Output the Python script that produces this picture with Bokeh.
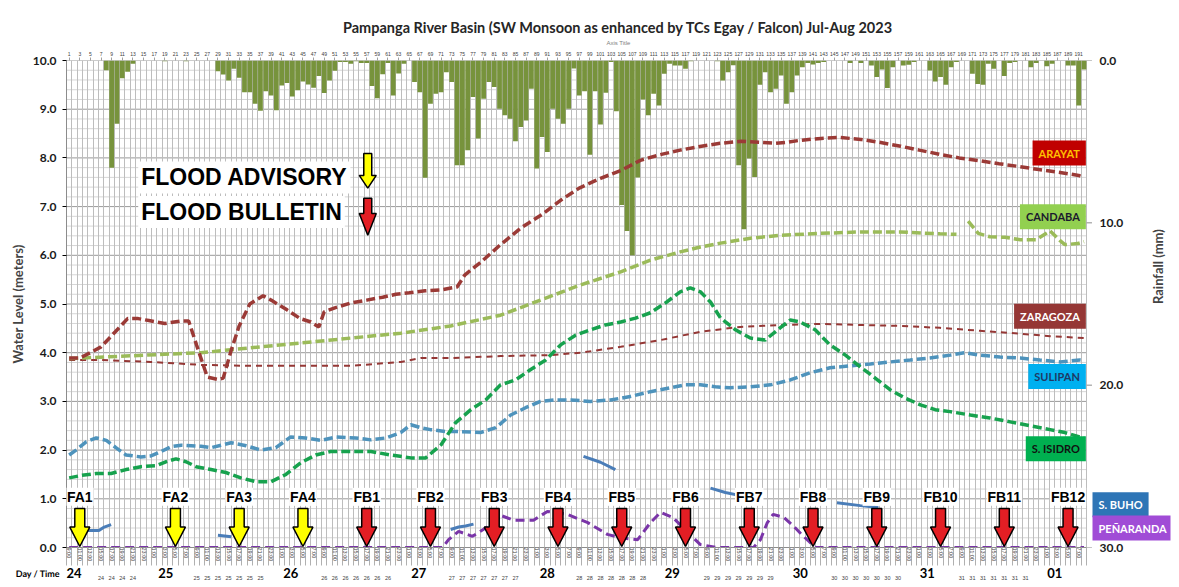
import math
from bokeh.plotting import figure
from bokeh.models import (Range1d, LinearAxis, FixedTicker, Label, NumeralTickFormatter)
from bokeh.embed import file_html
from bokeh.resources import INLINE

NaN = float("nan")

# ---------------- data ----------------
hours = list(range(1, 193))  # hourly index, 1 = 24 Jul 09:00
rainfall_mm = [
    0, 0, 0, 0, 0, 0, 0, 0.6, 6.6, 3.9, 1.1, 0.7,
    0.2, 0, 0, 0, 0, 0, 0.05, 0, 0, 0, 0.05, 0,
    0, 0, 0, 0, 0.66, 0.86, 1.23, 0.51, 1.06, 1.95, 1.95, 2.66,
    3.1, 1.9, 2.15, 3.07, 1.54, 1.39, 2.21, 1.84, 1.29, 1.48, 1.68, 0.95,
    2.0, 1.23, 0.63, 0.1, 0.1, 0.2, 0.05, 0.15, 0.15, 1.57, 2.33, 0.84,
    0.15, 2.15, 0.8, 0.2, 0, 1.33, 1.95, 7.23, 2.66, 2.05, 1.95, 0.72,
    1.33, 6.45, 6.45, 5.53, 2.25, 4.81, 2.36, 1.33, 1.64, 2.97, 3.38, 3.59,
    4.98, 4.1, 3.69, 1.74, 6.66, 4.71, 5.63, 2.97, 3.59, 3.89, 2.97, 0.5,
    2.15, 1.9, 5.8, 1.9, 3.95, 1.99, 0.1, 3.13, 8.9, 10.5, 12.0, 7.2,
    2.4, 3.38, 2.05, 2.77, 0.82, 0.2, 0.31, 0.31, 0.51, 0.05, 0, 0,
    0, 0, 0.05, 1.23, 0.72, 0.3, 6.45, 10.4, 6.04, 7.17, 1.5, 0.72,
    1.95, 1.74, 0.92, 2.66, 1.95, 0.92, 0.41, 0.15, 0.25, 0.15, 0.1, 0,
    0, 0, 0, 0.15, 0, 0.15, 0, 0.31, 1.02, 0.55, 1.7, 0.41,
    0, 0.31, 0.26, 0.1, 0, 0, 0.61, 1.29, 1.02, 1.5, 0.41, 0.1,
    0, 0, 0.82, 1.44, 1.5, 0.2, 0.51, 0, 0.96, 0.15, 0.1, 0,
    0, 0.41, 0.15, 0, 0.35, 0.2, 0, 0, 0.31, 0.31, 2.77, 0.55,
]

arayat_h = [1, 3, 5, 7, 9, 12, 14, 16, 19, 22, 23.5, 25, 27, 29, 30, 31.5, 33, 35, 37.5, 39,
            42, 44.5, 46.5, 48, 49, 51, 54, 57, 60, 62.5, 65, 68, 71, 74, 75.5, 78.5, 82, 86, 90, 93.5,
            97, 101, 105, 108.5, 112, 116, 120, 123.5, 127.5, 131, 134, 136, 138.5, 142.5, 146,
            150, 153.5, 157.5, 161, 165, 168.5, 172.5, 176, 180, 183.5, 187.5, 191, 192]
arayat_wl = [3.89, 3.89, 4.0, 4.12, 4.35, 4.7, 4.7, 4.66, 4.6, 4.65, 4.65, 4.15, 3.5, 3.45, 3.48, 4.05, 4.55, 5.0, 5.17, 5.08,
             4.88, 4.7, 4.63, 4.53, 4.84, 4.92, 5.02, 5.08, 5.14, 5.2, 5.23, 5.27, 5.29, 5.35, 5.6, 5.86, 6.2, 6.56, 6.84, 7.13,
             7.38, 7.58, 7.75, 7.95, 8.06, 8.16, 8.24, 8.3, 8.34, 8.32, 8.3, 8.32, 8.36, 8.4, 8.42,
             8.38, 8.32, 8.24, 8.16, 8.07, 8.0, 7.94, 7.88, 7.82, 7.76, 7.7, 7.64, 7.6]

zaragoza_h = [1, 7, 16.4, 25.8, 35.2, 44.6, 54, 63.4, 67.2, 72.8, 82.2, 91.6, 97.2, 104.8, 112.3,
              119.8, 127.3, 134.8, 142.4, 149.9, 157.4, 164.9, 172.4, 180, 185.6, 192]
zaragoza_wl = [3.85, 3.85, 3.81, 3.75, 3.73, 3.73, 3.73, 3.81, 3.89, 3.89, 3.93, 3.95, 4.0, 4.12, 4.26,
               4.43, 4.53, 4.57, 4.59, 4.57, 4.55, 4.51, 4.45, 4.39, 4.34, 4.3]

candaba_h = [1, 25.8, 44.6, 63.4, 72.8, 82.2, 89.7, 97.2, 104.8, 110.4, 116, 119.8, 123.6, 129.2, 134.8,
             142.4, 149.9, 157.4, 164.9, 168, NaN, 170.2, 172.1, 174.3, 177.1, 180, 183, 185.6, 187.5,
             188.4, 190.8, 192]
candaba_wl = [3.88, 4.0, 4.2, 4.4, 4.55, 4.77, 5.08, 5.39, 5.66, 5.9, 6.07, 6.17, 6.25, 6.35, 6.41,
              6.45, 6.48, 6.48, 6.44, 6.43, NaN, 6.7, 6.45, 6.38, 6.37, 6.32, 6.32, 6.5, 6.3,
              6.22, 6.24, 6.28]

sulipan_h = [1, 2.3, 4.2, 6.1, 8, 9.8, 11.7, 14.5, 16.4, 18.3, 20.2, 22.1, 25.8, 27.7, 29.6, 31.5, 34.3,
             37.1, 39.9, 42.7, 45.5, 48.4, 51.2, 54.9, 57.8, 60.6, 63.4, 65.3, 67.2, 69, 71.9, 74.7, 78.4,
             81.3, 84.1, 86.9, 89.7, 92.5, 95.4, 99.1, 102.9, 106.6, 110.4, 114.2, 117, 119.8, 122.6,
             125.4, 129.2, 133, 136.7, 140.5, 144.2, 148, 151.8, 155.5, 159.3, 163, 166.8, 169.6, 172.4,
             176.2, 180, 183.7, 187.5, 191.2, 192]
sulipan_wl = [1.9, 2.0, 2.17, 2.25, 2.2, 2.05, 1.9, 1.86, 1.88, 1.97, 2.07, 2.1, 2.08, 2.05, 2.1, 2.15, 2.09,
              2.0, 2.05, 2.27, 2.25, 2.2, 2.27, 2.25, 2.21, 2.25, 2.36, 2.52, 2.46, 2.42, 2.38, 2.38, 2.36,
              2.46, 2.72, 2.87, 3.0, 3.03, 3.03, 3.0, 3.03, 3.1, 3.2, 3.28, 3.34, 3.34, 3.3,
              3.28, 3.3, 3.34, 3.44, 3.59, 3.69, 3.73, 3.77, 3.81, 3.85, 3.89, 3.95, 4.0, 3.95,
              3.91, 3.89, 3.85, 3.81, 3.85, 3.84]

isidro_h = [1, 3.3, 6.1, 8.9, 11.7, 14.5, 17.4, 19.2, 21.1, 23, 24.9, 27.7, 30.5, 33.3, 36.2, 39, 41.8,
            44.6, 47.4, 50.2, 54, 57.8, 61.5, 65.3, 68.1, 71, 73.7, 76.6, 79.4, 82.2, 85, 87.8, 90.7,
            93.5, 96.3, 99.1, 101.9, 104.8, 107.6, 110.4, 113.2, 116, 117.9, 119.8, 121.7, 123.6, 126.4,
            129.2, 132, 134.8, 136.7, 138.6, 141.4, 144.2, 147.1, 149.9, 152.7, 155.5, 158.3, 161.2,
            164, 166.8, 170.6, 174.3, 178.1, 181.8, 185.6, 188.4, 191.2, 192]
isidro_wl = [1.43, 1.48, 1.52, 1.52, 1.6, 1.66, 1.68, 1.76, 1.82, 1.76, 1.66, 1.6, 1.54, 1.43, 1.35, 1.35, 1.5,
             1.74, 1.9, 1.97, 1.97, 1.97, 1.9, 1.84, 1.84, 2.11, 2.56, 2.83, 3.03, 3.34, 3.44, 3.65, 3.85,
             4.16, 4.36, 4.47, 4.57, 4.63, 4.71, 4.82, 5.02, 5.25, 5.33, 5.25, 5.04, 4.71, 4.47,
             4.3, 4.26, 4.51, 4.67, 4.63, 4.47, 4.16, 3.95, 3.71, 3.48, 3.24, 3.07, 2.93,
             2.83, 2.79, 2.72, 2.66, 2.58, 2.5, 2.42, 2.36, 2.27, 2.25]

buho_h = [3.3, 4.2, 6.6, 7.6, 8.9, NaN, 29, 31.5, NaN, 72.8, 74.3, 75.6, 77.1, NaN,
          97.8, 101, 103.8, NaN, 121.7, 124.5, 128, NaN, 145.5, 149.9, 153.3]
buho_wl = [0.38, 0.35, 0.35, 0.42, 0.47, NaN, 0.25, 0.22, NaN, 0.37, 0.42, 0.44, 0.48, NaN,
           1.87, 1.75, 1.6, NaN, 1.22, 1.13, 1.05, NaN, 0.92, 0.86, 0.82]

penaranda_h = [1, 69.6, 71.3, 72.4, 74.3, 76.9, 79.8, 82.2, 84.6, 88.4, 91, 94.8, 98.6, 102.3, 104.8,
               108, 110.4, 112.3, 114.7, 117.4, 119.8, 123, 129.8, 131.1, 132.4, 133.5, 135.5, 137.5,
               139, 141.5, 192]
penaranda_wl = [0, 0, 0, 0.16, 0.33, 0.23, 0.43, 0.66, 0.56, 0.56, 0.74, 0.68, 0.51, 0.27, 0.2,
                0.16, 0.51, 0.72, 0.61, 0.31, 0.06, 0, 0, 0.16, 0.51, 0.68, 0.62, 0.42,
                0.25, 0, 0]

advisory_hours = [3, 21, 33, 45]
advisory_names = ["FA1", "FA2", "FA3", "FA4"]
bulletin_hours = [57, 69, 81, 93, 105, 117, 129, 141, 153, 165, 177, 189]
bulletin_names = ["FB1", "FB2", "FB3", "FB4", "FB5", "FB6", "FB7", "FB8", "FB9", "FB10", "FB11", "FB12"]

time_labels = [f"{(8 + h) % 24}:00" if h % 2 == 1 else "" for h in hours]
day_names = ["24", "25", "26", "27", "28", "29", "30", "31", "01"]
day_label_h = [1.9, 19.2, 42.7, 66.8, 91.0, 114.5, 138.6, 162.5, 186.5]
day_title_h = 0.55
small_day_h = [h for h in range(1, 193, 2) if min(abs(h - d) for d in day_label_h) > 5]
small_day_text = [f"{(24 + (8 + h) // 24 - 1) % 31 + 1:02d}" for h in small_day_h]
top_tick_hours = list(range(1, 193, 2))
wl_ticks = list(range(0, 11))
wl_minor = [round(i * 0.2, 1) for i in range(51) if i % 5 != 0]
rain_ticks = [0, 10, 20, 30]

station_names = ["ARAYAT", "CANDABA", "ZARAGOZA", "SULIPAN", "S. ISIDRO", "S. BUHO", "PEÑARANDA"]
station_colors = ["#9B3A36", "#9BBB59", "#953735", "#4E93BC", "#17A24E", "#4A7DB8", "#7A35A8"]
tag_fill = ["#C00000", "#92D050", "#953735", "#00B0F0", "#00B050", "#2E75B6", "#A04CD6"]
tag_text = ["#FFC000", "#1A1A2E", "#FFFFFF", "#1F3864", "#111111", "#FFFFFF", "#FFFFFF"]
tag_y = [8.10, 6.79, 4.75, 3.51, 2.03, 0.88, 0.40]

H0, H1 = 0.5, 192.5          # extent of the hourly chart area
X_END = 208.28               # frame continues right to hold the station tags

# ---------------- figure ----------------
p = figure(width=1177, height=587, x_range=Range1d(H0, X_END), y_range=Range1d(0, 10),
           output_backend="svg", toolbar_location=None,
           min_border_left=66, min_border_right=6, min_border_top=60, min_border_bottom=39)
p.outline_line_color = None
p.extra_y_ranges = {"rain": Range1d(30, 0)}

p.title.text = "Pampanga River Basin (SW Monsoon as enhanced by TCs Egay / Falcon) Jul-Aug 2023"
p.title.align = "center"
p.title.offset = -1
p.title.text_font = "Lato"
p.title.text_font_style = "bold"
p.title.text_font_size = "14.5px"
p.title.text_color = "#262626"
p.title.standoff = 1

# grids (vertical via Grid, horizontal drawn only across the chart area)
p.xgrid.ticker = FixedTicker(ticks=[h + 0.5 for h in range(0, 193)])
p.xgrid.grid_line_color = "#BDBDBD"
p.ygrid.visible = False
p.segment(x0=[H0] * len(wl_minor), x1=[H1] * len(wl_minor), y0=wl_minor, y1=wl_minor,
          line_color="#D6D6D6", line_width=1, level="underlay")
p.segment(x0=[H0] * len(wl_ticks), x1=[H1] * len(wl_ticks), y0=wl_ticks, y1=wl_ticks,
          line_color="#9A9A9A", line_width=1, level="underlay")

# bottom time axis
xa = p.xaxis[0]
xa.bounds = (H0, H1)
xa.ticker = FixedTicker(ticks=hours, minor_ticks=[h + 0.5 for h in range(0, 193)])
xa.major_label_overrides = {h: t for h, t in zip(hours, time_labels)}
xa.major_label_orientation = "vertical"
xa.major_label_text_font = "Liberation Sans"
xa.major_label_text_font_size = "5.5px"
xa.major_label_text_color = "#404040"
xa.major_tick_out = 0
xa.major_tick_in = 0
xa.minor_tick_out = 18
xa.minor_tick_in = 0
xa.minor_tick_line_color = "#B0B0B0"
xa.major_label_standoff = -18
xa.axis_line_color = "#8C8C8C"

# day row (three axes sharing one row)
da = LinearAxis(ticker=FixedTicker(ticks=day_label_h), bounds=(H0, H1))
da.major_label_overrides = {h: d for h, d in zip(day_label_h, day_names)}
da.major_label_text_font = "Lato"
da.major_label_text_font_style = "bold"
da.major_label_text_font_size = "13px"
da.major_label_text_color = "black"
da.major_label_standoff = 3
p.add_layout(da, "below")

dt = LinearAxis(ticker=FixedTicker(ticks=[day_title_h]))
dt.major_label_overrides = {day_title_h: "Day / Time   "}
dt.major_label_orientation = 0.001
dt.major_label_text_font = "Lato"
dt.major_label_text_font_style = "bold"
dt.major_label_text_font_size = "9px"
dt.major_label_text_color = "black"
dt.major_label_standoff = -7
p.add_layout(dt, "below")

ds = LinearAxis(ticker=FixedTicker(ticks=small_day_h), bounds=(H0, H1))
ds.major_label_overrides = {h: t for h, t in zip(small_day_h, small_day_text)}
ds.major_label_text_font = "Liberation Sans"
ds.major_label_text_font_size = "5.5px"
ds.major_label_text_color = "#404040"
ds.major_label_standoff = -12
p.add_layout(ds, "below")

for ax in (da, dt, ds):
    ax.major_tick_out = 0
    ax.major_tick_in = 0
    ax.minor_tick_out = 0
    ax.minor_tick_in = 0
    ax.axis_line_color = None

# left axis
ya = p.yaxis[0]
ya.ticker = FixedTicker(ticks=wl_ticks)
ya.formatter = NumeralTickFormatter(format="0.0")
ya.major_label_text_font = "Lato"
ya.major_label_text_font_style = "bold"
ya.major_label_text_font_size = "12px"
ya.major_label_text_color = "#1A1A1A"
ya.axis_label = "Water Level (meters)"
ya.axis_label_text_font = "Lato"
ya.axis_label_text_font_style = "bold"
ya.axis_label_text_font_size = "13px"
ya.axis_label_standoff = 4
ya.major_tick_out = 4
ya.major_tick_in = 0
ya.minor_tick_out = 0
ya.minor_tick_in = 0
ya.major_label_standoff = 6
ya.axis_line_color = "#8C8C8C"

# top axis
ta = LinearAxis(ticker=FixedTicker(ticks=top_tick_hours), axis_label="Axis Title", bounds=(H0, H1))
ta.major_label_text_font = "Liberation Sans"
ta.major_label_text_font_size = "5px"
ta.major_label_text_color = "#404040"
ta.major_tick_out = 3
ta.major_tick_in = 0
ta.minor_tick_out = 0
ta.major_tick_line_color = "#A0A0A0"
ta.major_label_standoff = 2
ta.axis_line_color = None
ta.axis_label_text_font = "Liberation Sans"
ta.axis_label_text_font_size = "6px"
ta.axis_label_text_font_style = "normal"
ta.axis_label_text_color = "#7F7F7F"
ta.axis_label_standoff = 3
p.add_layout(ta, "above")

# right rainfall axis (labels pulled back beside the chart area)
ra = LinearAxis(y_range_name="rain", ticker=FixedTicker(ticks=rain_ticks),
                formatter=NumeralTickFormatter(format="0.0"), axis_label="Rainfall (mm)")
ra.major_label_text_font = "Lato"
ra.major_label_text_font_style = "bold"
ra.major_label_text_font_size = "12px"
ra.major_label_text_color = "#1A1A1A"
ra.major_tick_out = 0
ra.major_tick_in = 0
ra.minor_tick_out = 0
ra.minor_tick_in = 0
ra.major_label_standoff = -71
ra.axis_line_color = None
ra.axis_label_text_font = "Lato"
ra.axis_label_text_font_style = "bold"
ra.axis_label_text_font_size = "13px"
ra.axis_label_standoff = 32
ra.axis_label_orientation = math.pi / 2
p.add_layout(ra, "right")
p.segment(x0=[H1] * len(rain_ticks), x1=[H1 + 1.0] * len(rain_ticks), y0=rain_ticks, y1=rain_ticks,
          y_range_name="rain", line_color="#8C8C8C", line_width=1)

# rainfall bars
p.vbar(x=hours, width=0.9, top=0, bottom=rainfall_mm, y_range_name="rain",
       fill_color="#77933C", line_color=None)

# water level lines
p.line(zaragoza_h, zaragoza_wl, line_color=station_colors[2], line_width=2, line_dash="6 5")
p.line(candaba_h, candaba_wl, line_color=station_colors[1], line_width=3.5, line_dash="9 4")
p.line(arayat_h, arayat_wl, line_color=station_colors[0], line_width=3.5, line_dash="9 4")
p.line(sulipan_h, sulipan_wl, line_color=station_colors[3], line_width=3.5, line_dash="9 4")
p.line(isidro_h, isidro_wl, line_color=station_colors[4], line_width=3.5, line_dash="9 4")
p.line(buho_h, buho_wl, line_color=station_colors[5], line_width=3)
p.line(penaranda_h, penaranda_wl, line_color=station_colors[6], line_width=3, line_dash="9 5")


def arrow(c, top, shoulder, tip, sw, hw):
    return ([c - sw, c + sw, c + sw, c + hw, c, c - hw, c - sw],
            [top, top, shoulder, shoulder, tip, shoulder, shoulder])


fa_xs, fa_ys = zip(*[arrow(h, 0.8, 0.42, 0.02, 0.94, 1.88) for h in advisory_hours])
fb_xs, fb_ys = zip(*[arrow(h, 0.8, 0.42, 0.02, 0.94, 1.88) for h in bulletin_hours])
p.patches(list(fa_xs), list(fa_ys), fill_color="#FFFF00", line_color="black", line_width=1.5)
p.patches(list(fb_xs), list(fb_ys), fill_color="#E31E24", line_color="black", line_width=1.5)

# legend arrows
lx = 57.2
ax1 = arrow(lx, 8.09, 7.64, 7.38, 0.75, 1.6)
ax2 = arrow(lx, 7.17, 6.86, 6.41, 0.75, 1.6)
p.patches([ax1[0], ax2[0]], [ax1[1], ax2[1]], fill_color=["#FFFF00", "#E31E24"],
          line_color="black", line_width=1.5)

for h, name in zip(advisory_hours + bulletin_hours, advisory_names + bulletin_names):
    p.add_layout(Label(x=h, y=1.04, text=name, text_align="center", text_baseline="middle",
                       text_font="Liberation Sans", text_font_style="bold", text_font_size="14px",
                       text_color="black", background_fill_color="white", padding=1))

for txt, yy in [("FLOOD ADVISORY", 7.6), ("FLOOD BULLETIN", 6.89)]:
    p.add_layout(Label(x=14.0, y=yy, text=txt, text_align="left", text_baseline="middle",
                       text_font="Liberation Sans", text_font_style="bold", text_font_size="23px",
                       text_color="black", background_fill_color="white", padding=3))

# station tags
for i, name in enumerate(station_names):
    if i < 5:
        xx, al = H1 - 0.15, "right"
    else:
        xx, al = 193.6, "left"
    p.add_layout(Label(x=xx, y=tag_y[i], text=name, text_align=al, text_baseline="middle",
                       text_font="Lato", text_font_style="bold", text_font_size="11px",
                       text_color=tag_text[i], background_fill_color=tag_fill[i], padding=6))

open("out.html", "w").write(file_html(p, INLINE))
